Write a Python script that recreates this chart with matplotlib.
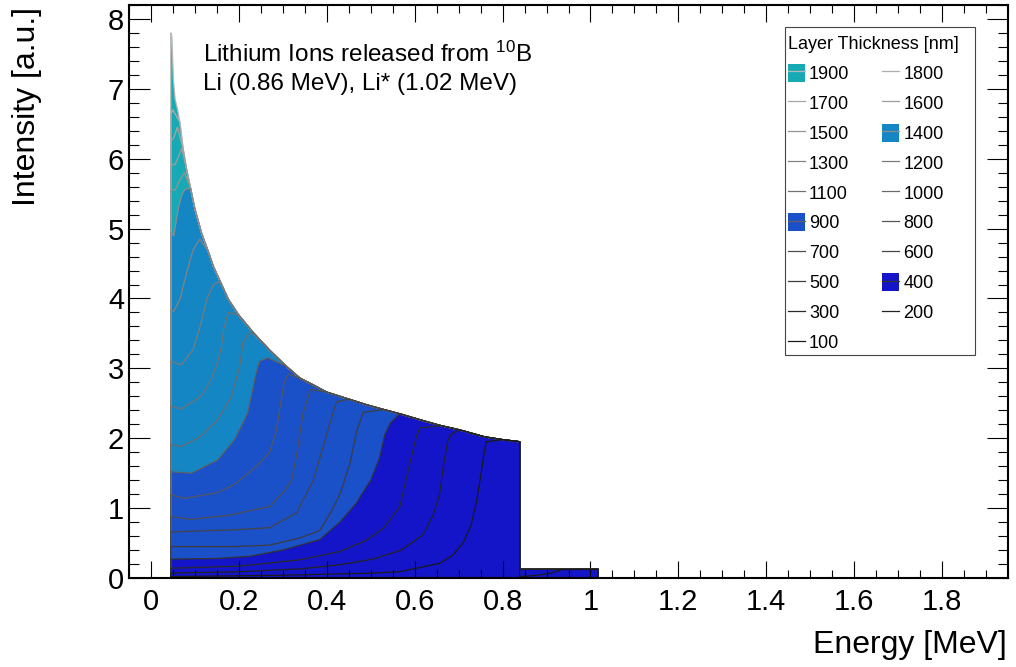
import matplotlib
matplotlib.use('Agg')
import matplotlib.pyplot as plt
from matplotlib.patches import Patch, Rectangle
from matplotlib.lines import Line2D
from matplotlib.ticker import MultipleLocator, FuncFormatter

plt.rcParams['font.family'] = ['Liberation Sans', 'DejaVu Sans']
plt.rcParams['mathtext.fontset'] = 'custom'
plt.rcParams['mathtext.rm'] = 'Liberation Sans'
plt.rcParams['mathtext.it'] = 'Liberation Sans:italic'

# envelope = full spectrum of the 1900 nm layer
env_e = [0.045, 0.0475, 0.051, 0.055, 0.060, 0.066, 0.073, 0.081, 0.090, 0.100,
         0.115, 0.130, 0.142, 0.160, 0.176, 0.200, 0.233, 0.270, 0.308, 0.339,
         0.370, 0.400, 0.450, 0.490, 0.530, 0.566, 0.620, 0.660, 0.702, 0.759,
         0.800, 0.839]
env_v = [7.80, 7.75, 7.14, 6.85, 6.72, 6.52, 6.15, 5.85, 5.58, 5.28,
         4.94, 4.68, 4.46, 4.21, 3.99, 3.76, 3.51, 3.26, 3.03, 2.86,
         2.76, 2.66, 2.56, 2.48, 2.41, 2.35, 2.25, 2.18, 2.12, 2.02,
         1.98, 1.95]

# low energy part of each thinner layer, up to where it meets the envelope
e_1800 = [0.045, 0.050]
v_1800 = [6.64, 6.70]
e_1700 = [0.045, 0.052, 0.060]
v_1700 = [6.25, 6.30, 6.45]
e_1600 = [0.045, 0.055, 0.064, 0.070]
v_1600 = [5.90, 5.92, 6.05, 6.15]
e_1500 = [0.045, 0.055, 0.066, 0.076]
v_1500 = [5.55, 5.55, 5.70, 5.80]
e_1400 = [0.045, 0.052, 0.062, 0.070, 0.077]
v_1400 = [4.94, 4.90, 5.28, 5.48, 5.56]
e_1300 = [0.045, 0.052, 0.066, 0.081, 0.096, 0.111]
v_1300 = [3.84, 3.82, 3.99, 4.37, 4.70, 4.85]
e_1200 = [0.045, 0.069, 0.096, 0.111, 0.127, 0.142, 0.157]
v_1200 = [3.10, 3.05, 3.27, 3.58, 3.99, 4.20, 4.25]
e_1100 = [0.045, 0.069, 0.114, 0.137, 0.152, 0.160, 0.166, 0.176]
v_1100 = [2.46, 2.42, 2.60, 2.84, 3.10, 3.30, 3.58, 3.80]
e_1000 = [0.045, 0.069, 0.114, 0.152, 0.183, 0.202, 0.209, 0.220]
v_1000 = [1.91, 1.88, 2.03, 2.27, 2.60, 3.03, 3.36, 3.48]
e_900 = [0.045, 0.092, 0.152, 0.190, 0.220, 0.239, 0.247, 0.266]
v_900 = [1.52, 1.50, 1.69, 1.98, 2.36, 2.93, 3.10, 3.15]
e_800 = [0.045, 0.076, 0.150, 0.190, 0.240, 0.270, 0.285, 0.295, 0.303, 0.312]
v_800 = [1.19, 1.14, 1.22, 1.34, 1.60, 1.80, 2.10, 2.50, 2.80, 2.92]
e_700 = [0.045, 0.090, 0.180, 0.228, 0.270, 0.304, 0.320, 0.331, 0.346, 0.363]
v_700 = [0.88, 0.84, 0.90, 0.97, 1.02, 1.25, 1.40, 1.74, 2.36, 2.70]
e_600 = [0.045, 0.190, 0.270, 0.331, 0.369, 0.392, 0.414, 0.422]
v_600 = [0.66, 0.69, 0.72, 0.93, 1.40, 1.88, 2.36, 2.52]
e_500 = [0.045, 0.190, 0.270, 0.342, 0.384, 0.410, 0.430, 0.452, 0.468, 0.483]
v_500 = [0.45, 0.45, 0.47, 0.58, 0.68, 0.95, 1.20, 1.62, 2.10, 2.37]
e_400 = [0.045, 0.150, 0.225, 0.300, 0.384, 0.430, 0.467, 0.500, 0.520, 0.532, 0.545]
v_400 = [0.27, 0.28, 0.31, 0.40, 0.55, 0.80, 1.07, 1.40, 1.72, 2.05, 2.22]
e_300 = [0.045, 0.200, 0.339, 0.430, 0.490, 0.530, 0.566, 0.589, 0.604, 0.612]
v_300 = [0.14, 0.17, 0.26, 0.38, 0.54, 0.72, 1.02, 1.64, 2.03, 2.15]
e_200 = [0.045, 0.200, 0.339, 0.430, 0.505, 0.570, 0.619, 0.642, 0.657, 0.665, 0.675, 0.683]
v_200 = [0.07, 0.09, 0.13, 0.19, 0.27, 0.40, 0.62, 0.90, 1.20, 1.60, 1.95, 2.06]
e_100 = [0.045, 0.300, 0.505, 0.566, 0.657, 0.687, 0.710, 0.728, 0.740, 0.750, 0.757, 0.763]
v_100 = [0.02, 0.04, 0.07, 0.09, 0.21, 0.33, 0.50, 0.75, 1.07, 1.45, 1.75, 1.95]

# 1.02 MeV branch above the 0.84 MeV edge
tail_e = [0.839, 1.017]
tail_v = [0.125, 0.125]
tail_e_100 = [0.839, 0.880, 0.910, 0.925, 0.935, 1.017]
tail_v_100 = [0.02, 0.04, 0.07, 0.10, 0.12, 0.125]

thickness = [1900, 1800, 1700, 1600, 1500, 1400, 1300, 1200, 1100, 1000,
             900, 800, 700, 600, 500, 400, 300, 200, 100]

low = {1900: ([], []), 1800: (e_1800, v_1800), 1700: (e_1700, v_1700),
       1600: (e_1600, v_1600), 1500: (e_1500, v_1500), 1400: (e_1400, v_1400),
       1300: (e_1300, v_1300), 1200: (e_1200, v_1200), 1100: (e_1100, v_1100),
       1000: (e_1000, v_1000), 900: (e_900, v_900), 800: (e_800, v_800),
       700: (e_700, v_700), 600: (e_600, v_600), 500: (e_500, v_500),
       400: (e_400, v_400), 300: (e_300, v_300), 200: (e_200, v_200),
       100: (e_100, v_100)}

fill_colors = {1900: '#17aab4', 1400: '#1586c4', 900: '#1a50c8', 400: '#1414c8'}


def line_color(t):
    g = 0.1 + 0.62 * (t - 100) / 1800
    return (g, g, g)


def build_curve(t):
    le, lv = low[t]
    if not le:
        e, v = list(env_e), list(env_v)
    else:
        e, v = list(le), list(lv)
        for ee, vv in zip(env_e, env_v):
            if ee >= le[-1] + 0.01:
                e.append(ee)
                v.append(vv)
    te, tv = (tail_e_100, tail_v_100) if t == 100 else (tail_e, tail_v)
    xs = [e[0]] + e + te + [te[-1]]
    ys = [0] + v + tv + [0]
    return xs, ys


fig = plt.figure(figsize=(10.16, 6.67), dpi=100)
ax = fig.add_axes([129 / 1016, 89 / 667, 879 / 1016, 573 / 667])

for t in thickness:
    xs, ys = build_curve(t)
    if t in fill_colors:
        ax.fill(xs, ys, color=fill_colors[t], lw=0)
    ax.plot(xs, ys, color=line_color(t), lw=0.9)

ax.set_xlim(-0.05, 1.95)
ax.set_ylim(0, 8.2)
ax.xaxis.set_major_locator(MultipleLocator(0.2))
ax.xaxis.set_minor_locator(MultipleLocator(0.05))
ax.yaxis.set_major_locator(MultipleLocator(1))
ax.yaxis.set_minor_locator(MultipleLocator(0.2))
fmt = FuncFormatter(lambda val, pos: f'{val:g}')
ax.xaxis.set_major_formatter(fmt)
ax.yaxis.set_major_formatter(fmt)
ax.tick_params(which='both', direction='in', top=True, right=True, width=0.8)
ax.tick_params(axis='x', which='major', length=12, pad=7, labelsize=21)
ax.tick_params(axis='x', which='minor', length=6)
ax.tick_params(axis='y', which='major', length=15, pad=3.5, labelsize=21)
ax.tick_params(axis='y', which='minor', length=7.5)
for s in ax.spines.values():
    s.set_linewidth(1.5)

fig.text(1007 / 1016, 1 - 653 / 667, 'Energy [MeV]', ha='right', va='baseline', fontsize=23)
fig.text(27 / 1016, 1 - 7 / 667, 'Intensity [a.u.]', rotation=90, ha='center', va='top', fontsize=23)

ax.text(0.084, 0.900, r'Lithium Ions released from $^{10}$B', transform=ax.transAxes,
        fontsize=17.5, va='baseline')
ax.text(0.084, 0.852, 'Li (0.86 MeV), Li* (1.02 MeV)', transform=ax.transAxes,
        fontsize=17.5, va='baseline')

# legend frame drawn separately so it can be wider than the entries
ax.add_patch(Rectangle((0.746, 0.389), 0.217, 0.573, transform=ax.transAxes,
                       facecolor='white', edgecolor='#444444', lw=0.8, zorder=4))

# ROOT fills the legend row by row, matplotlib column by column
order = thickness[0::2] + thickness[1::2]
handles, labels = [], []
for t in order:
    if t in fill_colors:
        h = (Patch(facecolor=fill_colors[t], edgecolor='none'), Line2D([], [], color=line_color(t), lw=0.9))
    else:
        h = Line2D([], [], color=line_color(t), lw=0.9)
    handles.append(h)
    labels.append(str(t))

leg = ax.legend(handles, labels, ncol=2, title='Layer Thickness [nm]', alignment='left',
                loc='upper left', bbox_to_anchor=(0.7497, 0.9459), fontsize=13,
                title_fontsize=13, frameon=False, borderpad=0, labelspacing=0.60,
                handlelength=0.94, handleheight=1.15, handletextpad=0.22,
                columnspacing=1.83, borderaxespad=0)
leg.set_zorder(5)

fig.savefig('out.png', dpi=100)
